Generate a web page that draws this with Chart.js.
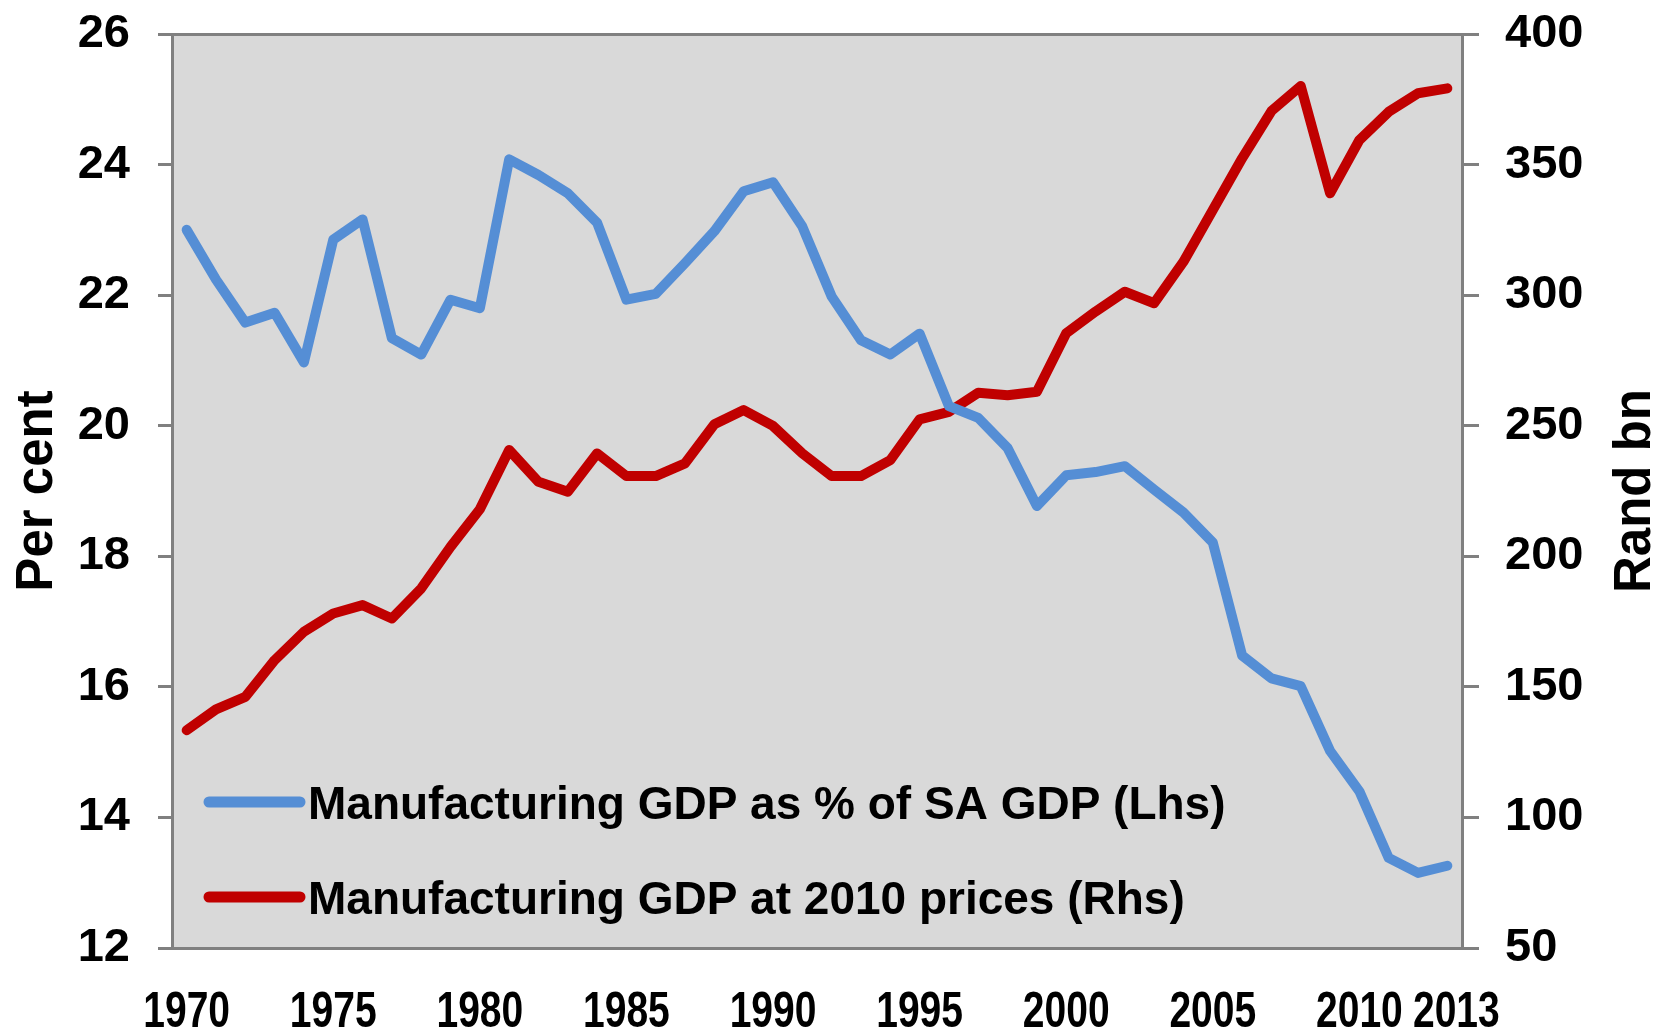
<!DOCTYPE html>
<html>
<head>
<meta charset="utf-8">
<script src="https://cdn.jsdelivr.net/npm/chart.js@4.4.1/dist/chart.umd.min.js"></script>
<style>
  html, body { margin: 0; padding: 0; background: #fff; }
  #wrap { width: 1662px; height: 1032px; }
</style>
</head>
<body>
<div id="wrap"><canvas id="c" width="1662" height="1032"></canvas></div>
<script>
// years on the category axis
const years = [];
for (let y = 1970; y <= 2013; y++) years.push(y);

// labels shown under the x axis
const xTickYears = [1970, 1975, 1980, 1985, 1990, 1995, 2000, 2005, 2010, 2013];

// Manufacturing GDP as % of SA GDP (left axis)
const shareOfGdp = [
  23.0, 22.24, 21.58, 21.73, 20.97, 22.85, 23.16, 21.34, 21.09, 21.93,
  21.8, 24.08, 23.84, 23.56, 23.11, 21.93, 22.02, 22.49, 22.98, 23.59,
  23.73, 23.05, 21.98, 21.31, 21.09, 21.41, 20.3, 20.12, 19.66, 18.77,
  19.24, 19.29, 19.38, 19.02, 18.67, 18.21, 16.48, 16.13, 16.01, 15.02,
  14.4, 13.38, 13.15, 13.26
];

// Manufacturing GDP at 2010 prices, Rand bn (right axis)
const realGdp = [
  133.4, 141.4, 146.2, 160.2, 171.1, 178.1, 181.3, 176.2, 187.7, 203.6,
  218.0, 240.7, 228.5, 224.7, 239.4, 230.7, 230.7, 235.6, 250.6, 256.0,
  249.9, 239.4, 230.7, 230.7, 236.8, 252.4, 255.3, 262.6, 261.7, 263.0,
  285.4, 293.7, 301.3, 296.9, 312.8, 332.6, 352.4, 370.5, 380.1, 339.0,
  359.4, 370.2, 377.3, 379.2
];

const seriesNames = [
  'Manufacturing GDP as % of SA GDP (Lhs)',
  'Manufacturing GDP at 2010 prices (Rhs)'
];

const leftRange = [12, 26, 2];
const rightRange = [50, 400, 50];

const GREY = '#808080';
const SANS = '"Liberation Sans", Arial, sans-serif';

// grey plot background
const plotBg = {
  id: 'plotBg',
  beforeDraw(chart) {
    const { ctx, chartArea: a } = chart;
    ctx.save();
    ctx.fillStyle = '#D9D9D9';
    ctx.fillRect(a.left, a.top, a.right - a.left, a.bottom - a.top);
    ctx.restore();
  }
};

// year labels, squeezed horizontally like a narrow bold face
const yearLabels = {
  id: 'yearLabels',
  afterDraw(chart) {
    const { ctx } = chart;
    const xs = chart.scales.x;
    ctx.save();
    ctx.fillStyle = '#000';
    ctx.font = 'bold 50px ' + SANS;
    ctx.textAlign = 'center';
    ctx.textBaseline = 'alphabetic';
    xTickYears.forEach((yr, i) => {
      let px = xs.getPixelForValue(years.indexOf(yr));
      // last label nudged right so it clears its neighbour
      if (i === xTickYears.length - 1) px += 9;
      ctx.save();
      ctx.translate(px, xs.top + 79);
      ctx.scale(0.78, 1);
      ctx.fillText(String(yr), 0, 0);
      ctx.restore();
    });
    ctx.restore();
  }
};

// legend inside the plot, lower left
const innerLegend = {
  id: 'innerLegend',
  afterDatasetsDraw(chart) {
    const { ctx, chartArea: a } = chart;
    const rows = [a.bottom - 146, a.bottom - 51];
    ctx.save();
    chart.data.datasets.forEach((ds, i) => {
      const y = rows[i];
      ctx.strokeStyle = ds.borderColor;
      ctx.lineWidth = 11;
      ctx.lineCap = 'round';
      ctx.beginPath();
      ctx.moveTo(a.left + 37, y);
      ctx.lineTo(a.left + 128, y);
      ctx.stroke();
      ctx.fillStyle = '#000';
      ctx.font = 'bold 46px ' + SANS;
      ctx.textAlign = 'left';
      ctx.textBaseline = 'alphabetic';
      ctx.fillText(ds.label, a.left + 136, y + 16.5);
    });
    ctx.restore();
  }
};

// axis titles, both reading bottom to top
const axisTitles = {
  id: 'axisTitles',
  afterDraw(chart) {
    const { ctx, chartArea: a } = chart;
    const cy = (a.top + a.bottom) / 2;
    ctx.save();
    ctx.fillStyle = '#000';
    ctx.font = 'bold 51px ' + SANS;
    ctx.textAlign = 'center';
    ctx.textBaseline = 'alphabetic';
    [[52, 'Per cent'], [1650, 'Rand bn']].forEach(([x, t]) => {
      ctx.save();
      ctx.translate(x, cy);
      ctx.rotate(-Math.PI / 2);
      ctx.fillText(t, 0, 0);
      ctx.restore();
    });
    ctx.restore();
  }
};

new Chart(document.getElementById('c'), {
  type: 'line',
  data: {
    labels: years,
    datasets: [
      {
        label: seriesNames[0],
        data: shareOfGdp,
        yAxisID: 'yL',
        borderColor: '#558ED5',
        borderWidth: 10,
        borderCapStyle: 'round',
        borderJoinStyle: 'round',
        pointRadius: 0,
        tension: 0
      },
      {
        label: seriesNames[1],
        data: realGdp,
        yAxisID: 'yR',
        borderColor: '#C00000',
        borderWidth: 10,
        borderCapStyle: 'round',
        borderJoinStyle: 'round',
        pointRadius: 0,
        tension: 0
      }
    ]
  },
  options: {
    responsive: false,
    animation: false,
    layout: { autoPadding: false, padding: { top: 34, left: 0, right: 0, bottom: 0 } },
    plugins: {
      legend: { display: false },
      tooltip: { enabled: false }
    },
    scales: {
      x: {
        type: 'category',
        offset: true,
        grid: { display: false, drawTicks: false },
        border: { display: true, color: GREY, width: 3 },
        ticks: { display: false },
        afterFit(scale) { scale.height = 84; }
      },
      yL: {
        position: 'left',
        min: leftRange[0],
        max: leftRange[1],
        grid: {
          drawOnChartArea: true,
          color: c => (c.tick && c.tick.value === leftRange[1]) ? GREY : 'rgba(0,0,0,0)',
          lineWidth: 3,
          tickColor: GREY,
          tickLength: 14,
          tickWidth: 3
        },
        border: { display: true, color: GREY, width: 3 },
        ticks: {
          stepSize: leftRange[2],
          padding: 28,
          color: '#000',
          font: { family: SANS, size: 47, weight: 'bold', lineHeight: 0.1 }
        },
        afterFit(scale) { scale.width = 172; }
      },
      yR: {
        position: 'right',
        min: rightRange[0],
        max: rightRange[1],
        grid: {
          drawOnChartArea: false,
          tickColor: GREY,
          tickLength: 17,
          tickWidth: 3,
          lineWidth: 3
        },
        border: { display: true, color: GREY, width: 3 },
        ticks: {
          stepSize: rightRange[2],
          padding: 26,
          color: '#000',
          font: { family: SANS, size: 47, weight: 'bold', lineHeight: 0.1 }
        },
        afterFit(scale) { scale.width = 200; }
      }
    }
  },
  plugins: [plotBg, yearLabels, innerLegend, axisTitles]
});
</script>
</body>
</html>
